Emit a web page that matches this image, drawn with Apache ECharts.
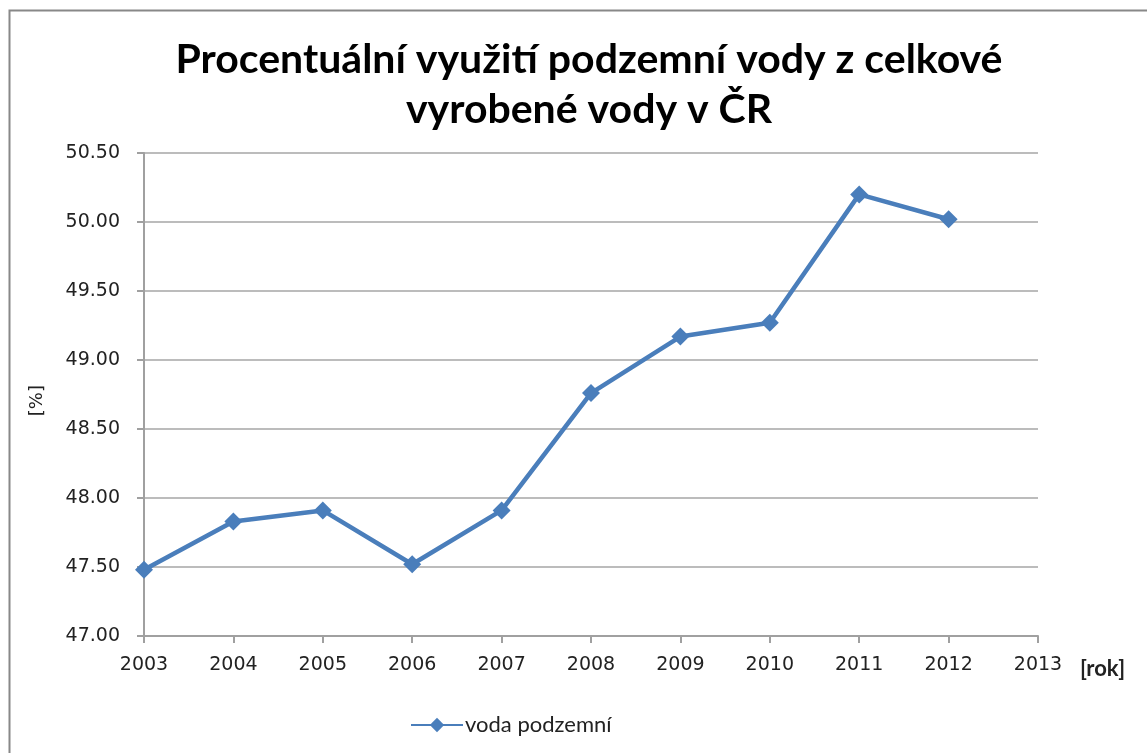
<!DOCTYPE html>
<html>
<head>
<meta charset="utf-8">
<script src="https://cdn.jsdelivr.net/npm/echarts@6/dist/echarts.min.js"></script>
<style>
	html, body { margin: 0; padding: 0; background: #fff; }
	#main { width: 1147px; height: 753px; }
</style>
</head>
<body>
<div id="main"></div>
<script>
// roky a hodnoty
var years = [2003, 2004, 2005, 2006, 2007, 2008, 2009, 2010, 2011, 2012];
var podzemni = [47.48, 47.83, 47.91, 47.52, 47.91, 48.76, 49.17, 49.27, 50.20, 50.02];
var yTicks = { min: 47, max: 50.5, step: 0.5 };
var xTicks = { min: 2003, max: 2013, step: 1 };

var seriesData = [];
for (var i = 0; i < years.length; i++) {
	seriesData.push([years[i], podzemni[i]]);
}

var chart = echarts.init(document.getElementById('main'));
chart.setOption({
	backgroundColor: '#FFF',
	animation: false,
	title: {
		text: 'Procentuální využití podzemní vody z celkové\nvyrobené vody v ČR',
		left: 584,
		textAlign: 'center',
		top: 30,
		textStyle: {
			fontFamily: 'Lato',
			fontWeight: 'bold',
			fontSize: 41,
			lineHeight: 50,
			color: '#000'
		}
	},
	graphic: [{
		type: 'rect',
		shape: { x: 9.5, y: 10.5, width: 1160, height: 760 },
		style: { fill: 'none', stroke: '#888', lineWidth: 2 }
	}, {
		type: 'text',
		left: 28, top: 385,
		rotation: Math.PI / 2,
		style: { text: '[%]', fontFamily: 'DejaVu Sans', fontSize: 18, fill: '#222' }
	}],
	grid: { left: 144, right: 109, top: 153, bottom: 117 },
	legend: {
		bottom: 12,
		left: 405,
		itemWidth: 52,
		itemHeight: 18,
		itemGap: 10,
		textStyle: { fontFamily: 'Lato', fontSize: 22, color: '#222', padding: [0, 0, 0, -3] },
		data: ['voda podzemní']
	},
	xAxis: {
		type: 'value',
		min: xTicks.min,
		max: xTicks.max,
		interval: xTicks.step,
		name: '[rok]',
		nameLocation: 'end',
		nameGap: 42,
		nameTextStyle: { fontFamily: 'Lato', fontWeight: 'bold', fontSize: 22, color: '#222', verticalAlign: 'top', padding: [22, 0, 0, 0] },
		axisLine: { lineStyle: { color: '#a0a0a0', width: 2 } },
		axisTick: { show: true, length: 7, lineStyle: { color: '#a0a0a0', width: 2 } },
		splitLine: { show: false },
		axisLabel: {
			margin: 20,
			fontFamily: 'DejaVu Sans',
			fontSize: 19,
			color: '#222',
			formatter: function (v) { return String(v); }
		}
	},
	yAxis: {
		type: 'value',
		min: yTicks.min,
		max: yTicks.max,
		interval: yTicks.step,
		axisLine: { show: true, lineStyle: { color: '#a0a0a0', width: 2 } },
		axisTick: { show: true, length: 7, lineStyle: { color: '#a0a0a0', width: 2 } },
		splitLine: { show: true, lineStyle: { color: '#a6a6a6', width: 1.5 } },
		axisLabel: {
			margin: 24,
			fontFamily: 'DejaVu Sans',
			fontSize: 19,
			color: '#222',
			formatter: function (v) { return v.toFixed(2); }
		}
	},
	series: [{
		name: 'voda podzemní',
		type: 'line',
		data: seriesData,
		symbol: 'diamond',
		symbolSize: 18,
		lineStyle: { color: '#4a7ebb', width: 4.5 },
		itemStyle: { color: '#4a7ebb' }
	}]
});
</script>
</body>
</html>
